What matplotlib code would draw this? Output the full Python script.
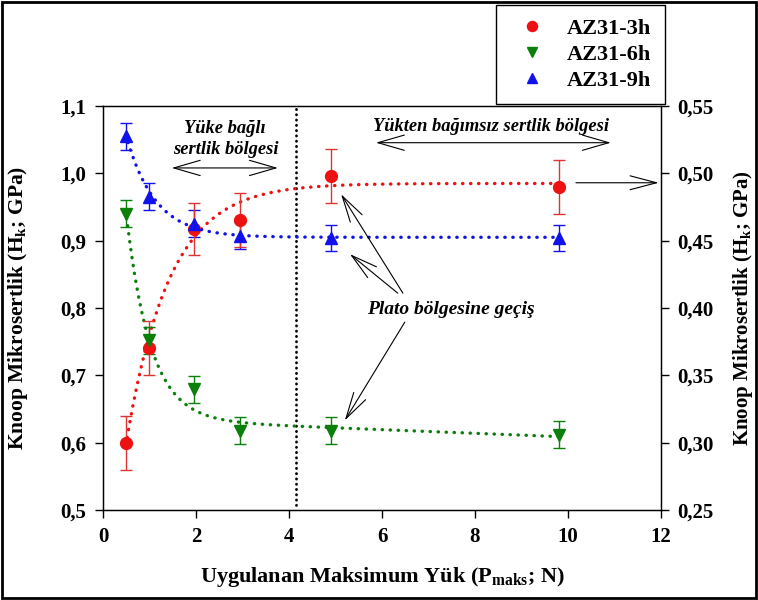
import numpy as np
import matplotlib
matplotlib.use("Agg")
import matplotlib.pyplot as plt
from matplotlib.patches import Rectangle
from matplotlib.ticker import FixedLocator, FuncFormatter

plt.rcParams["font.family"] = ["Liberation Serif", "DejaVu Serif"]
plt.rcParams["font.weight"] = "bold"
plt.rcParams["mathtext.fontset"] = "custom"
plt.rcParams["mathtext.rm"] = "Liberation Serif:bold"
plt.rcParams["mathtext.it"] = "Liberation Serif:bold:italic"
plt.rcParams["mathtext.bf"] = "Liberation Serif:bold"
plt.rcParams["mathtext.default"] = "rm"

# Applied load (N) and Knoop hardness (GPa)
loads = [0.49, 0.98, 1.96, 2.94, 4.90, 9.80]
hk_3h = [0.600, 0.740, 0.917, 0.931, 0.996, 0.980]
err_3h = [0.040, 0.040, 0.039, 0.040, 0.040, 0.040]
hk_6h = [0.940, 0.752, 0.679, 0.618, 0.618, 0.612]
err_6h = [0.020, 0.020, 0.020, 0.020, 0.020, 0.020]
hk_9h = [1.055, 0.965, 0.925, 0.907, 0.904, 0.904]
err_9h = [0.020, 0.020, 0.020, 0.020, 0.020, 0.020]
labels = ["AZ31-3h", "AZ31-6h", "AZ31-9h"]

# Regression curve parameters: y = c + k*x + a*exp(-b*x)
fit_3h = dict(c=0.985, k=0.0, a=-0.659, b=1.075)
fit_6h = dict(c=0.6355, k=-0.0027, a=0.80, b=1.924)
fit_9h = dict(c=0.905, k=0.0, a=0.334, b=1.60)
transition_load = 4.15


def model(x, c, k, a, b):
    return c + k * x + a * np.exp(-b * x)


red, green, blue = "#ee1111", "#0a800a", "#1111ee"

fig = plt.figure(figsize=(7.58, 6.00), dpi=100)
ax = fig.add_axes([103 / 758, 1 - 510 / 600, (661 - 103) / 758, (510 - 106) / 600])

xs = np.linspace(loads[0], loads[-1], 400)
dot = dict(linestyle=(0, (0.1, 2.3)), dash_capstyle="round", lw=2.4)
ax.plot(xs, model(xs, **fit_3h), color=red, **dot, zorder=2)
ax.plot(xs, model(xs, **fit_6h), color=green, **dot, zorder=2)
ax.plot(xs, model(xs, **fit_9h), color=blue, **dot, zorder=2)

ax.plot([transition_load, transition_load], [0.508, 1.1], color="black",
        linestyle=(0, (0.1, 1.8)), dash_capstyle="round", lw=2.0, zorder=1)

eb = dict(fmt="none", elinewidth=1.0, capsize=4.5, capthick=1.0, zorder=3)
ax.errorbar(loads, hk_9h, yerr=err_9h, ecolor=blue, **eb)
ax.errorbar(loads, hk_3h, yerr=err_3h, ecolor="#dd3333", **eb)
ax.errorbar(loads, hk_6h, yerr=err_6h, ecolor=green, **eb)

h1, = ax.plot(loads, hk_3h, "o", color=red, ms=8.5, mec=red, label=labels[0], zorder=4)
h3, = ax.plot(loads, hk_9h, "^", color=blue, ms=8.8, mec=blue, label=labels[2], zorder=4)
h2, = ax.plot(loads, hk_6h, "v", color=green, ms=8.8, mec=green, label=labels[1], zorder=5)

ax.set_xlim(0, 12)
ax.set_ylim(0.5, 1.1)
ax.xaxis.set_major_locator(FixedLocator([0, 2, 4, 6, 8, 10, 12]))
ax.yaxis.set_major_locator(FixedLocator([0.5, 0.6, 0.7, 0.8, 0.9, 1.0, 1.1]))
ax.yaxis.set_major_formatter(FuncFormatter(lambda v, p: f"{v:.1f}".replace(".", ",")))
ax.tick_params(axis="both", direction="out", length=6, width=1.0, labelsize=15, pad=6)
for s in ax.spines.values():
    s.set_linewidth(1.0)

ax.set_xlabel("Uygulanan Maksimum Yük (P$_{maks}$; N)", fontsize=16, fontweight="bold", labelpad=13)
ax.set_ylabel("Knoop Mikrosertlik (H$_{k}$; GPa)", fontsize=15.5, fontweight="bold", labelpad=22)

ax2 = ax.twinx()
ax2.set_ylim(0.25, 0.55)
ax2.yaxis.set_major_locator(FixedLocator([0.25, 0.30, 0.35, 0.40, 0.45, 0.50, 0.55]))
ax2.yaxis.set_major_formatter(FuncFormatter(lambda v, p: f"{v:.2f}".replace(".", ",")))
ax2.tick_params(axis="y", direction="out", length=6, width=1.0, labelsize=15, pad=6)
ax2.set_ylabel("Knoop Mikrosertlik (H$_{k}$; GPa)", fontsize=15, fontweight="bold", labelpad=12)

# Region annotations
tfont = dict(fontsize=13.3, fontweight="bold", fontstyle="italic", ha="center", va="center")
ax.text(2.63, 1.066, "Yüke bağlı", **tfont)
ax.text(2.65, 1.035, "sertlik bölgesi", **tfont)
ax.text(8.35, 1.069, "Yükten bağımsız sertlik bölgesi", **tfont)
ax.text(7.49, 0.798, "Plato bölgesine geçiş", fontsize=14, fontweight="bold",
        fontstyle="italic", ha="center", va="center")

dbl = dict(arrowstyle="<->,head_length=1.9,head_width=0.55", lw=0.8, color="black",
           shrinkA=0, shrinkB=0)
ax.annotate("", xy=(3.76, 1.008), xytext=(1.48, 1.008), arrowprops=dbl)
ax.annotate("", xy=(10.92, 1.0455), xytext=(5.87, 1.0455), arrowprops=dbl)

single = dict(arrowstyle="->,head_length=1.9,head_width=0.5", lw=0.8, color="black",
              shrinkA=0, shrinkB=0)
ax.annotate("", xy=(11.95, 0.986), xytext=(10.17, 0.986), arrowprops=single)
ax.annotate("", xy=(5.12, 0.969), xytext=(6.45, 0.822), arrowprops=single)
ax.annotate("", xy=(5.31, 0.880), xytext=(6.34, 0.822), arrowprops=single)
ax.annotate("", xy=(5.20, 0.633), xytext=(6.49, 0.779), arrowprops=single)

leg = fig.legend(handles=[h1, h2, h3], loc="upper left",
                 bbox_to_anchor=(496 / 758, 1 - 5 / 600), bbox_transform=fig.transFigure,
                 borderaxespad=0, frameon=True, fancybox=False, framealpha=1,
                 edgecolor="black", fontsize=16, markerscale=0.85,
                 handlelength=2.0, handletextpad=0.6, borderpad=0.6, labelspacing=0.25)
leg.get_frame().set_linewidth(1.0)

fig.patches.append(Rectangle((0.003, 0.004), 0.994, 0.992, transform=fig.transFigure,
                             fill=False, edgecolor="black", lw=2.0))

fig.savefig("out.png", dpi=100)
